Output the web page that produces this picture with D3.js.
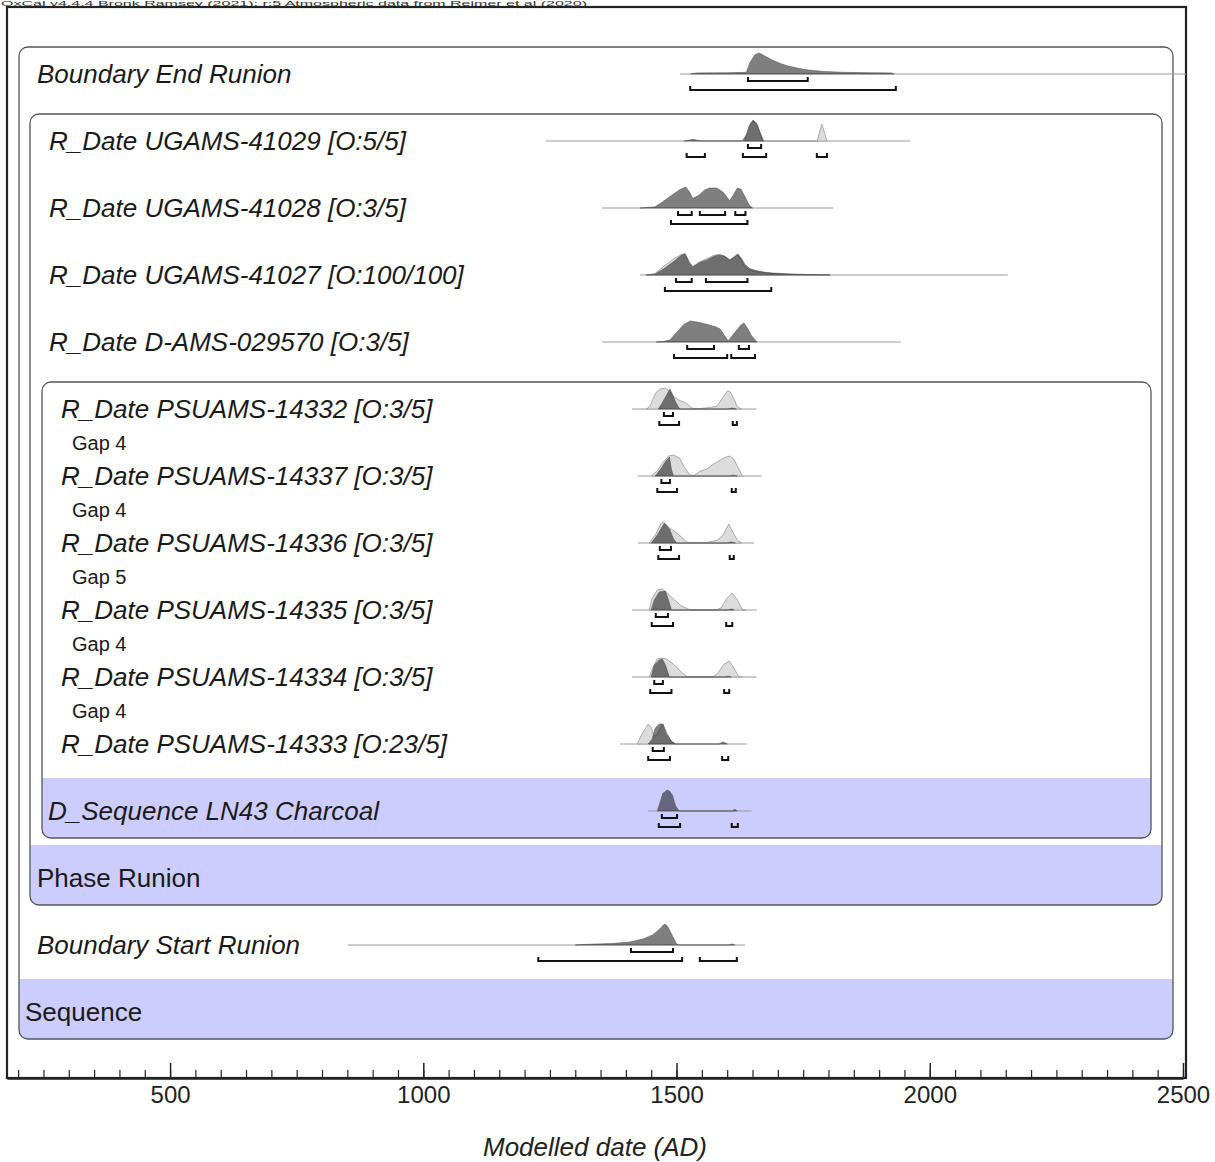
<html>
<head>
<title>LN43 OxCal model</title>
<script src="https://d3js.org/d3.v7.min.js"></script>
</head>
<body style="margin:0">
<svg id="oxcal-plot" width="1215" height="1162"></svg>
<script>
// ---- data ----
const rowLabels = [
    "Boundary End Runion",
    "R_Date UGAMS-41029 [O:5/5]",
    "R_Date UGAMS-41028 [O:3/5]",
    "R_Date UGAMS-41027 [O:100/100]",
    "R_Date D-AMS-029570 [O:3/5]",
    "R_Date PSUAMS-14332 [O:3/5]",
    "R_Date PSUAMS-14337 [O:3/5]",
    "R_Date PSUAMS-14336 [O:3/5]",
    "R_Date PSUAMS-14335 [O:3/5]",
    "R_Date PSUAMS-14334 [O:3/5]",
    "R_Date PSUAMS-14333 [O:23/5]",
    "D_Sequence LN43 Charcoal",
    "Phase Runion",
    "Boundary Start Runion",
    "Sequence"
];
const rowItalic = [true,true,true,true,true,true,true,true,true,true,true,true,false,true,false];
const labelX = [37,49,49,49,49,61,61,61,61,61,61,48,37,37,25];

// gap labels sit between consecutive PSUAMS rows (after row index)
const gapAfterRow = [5,6,7,8,9];
const gapLabels = ["Gap 4","Gap 4","Gap 5","Gap 4","Gap 4"];

// extent of the thin baseline of each row (years AD), null = none
const lineRanges = [
    [1507,2506],[1242,1961],[1353,1809],[1428,2154],[1353,1943],
    [1412,1658],[1424,1668],[1424,1653],[1412,1658],[1412,1658],[1388,1638],
    [1444,1648], null, [851,1635], null
];

// modelled (posterior) distributions, [year, relative probability]
const posterior = [
    [[1528,0],[1540,0.05],[1600,0.06],[1638,0.08],[1645,0.55],[1655,0.92],[1663,1.0],[1675,0.85],[1690,0.65],[1705,0.5],[1720,0.38],[1740,0.27],[1760,0.19],[1790,0.12],[1830,0.08],[1880,0.06],[1925,0.05],[1930,0]],
    [[1515,0],[1525,0.04],[1532,0.08],[1540,0.04],[1550,0],[1630,0],[1638,0.3],[1645,0.8],[1651,1.0],[1658,0.85],[1665,0.4],[1672,0]],
    [[1428,0],[1440,0.02],[1457,0.05],[1470,0.25],[1490,0.6],[1505,0.85],[1518,1.0],[1526,0.75],[1532,0.45],[1545,0.62],[1555,0.85],[1565,0.95],[1580,0.95],[1592,0.75],[1605,0.35],[1613,0.65],[1620,0.95],[1627,0.9],[1635,0.55],[1643,0.15],[1650,0]],
    [[1440,0],[1457,0.04],[1475,0.3],[1495,0.65],[1510,0.95],[1517,1.0],[1525,0.6],[1532,0.38],[1545,0.58],[1560,0.72],[1575,0.9],[1585,0.95],[1595,0.9],[1605,0.72],[1613,0.85],[1621,1.0],[1628,0.8],[1635,0.5],[1645,0.3],[1659,0.2],[1675,0.13],[1690,0.09],[1724,0.05],[1760,0.02],[1803,0]],
    [[1460,0],[1475,0.03],[1487,0.1],[1500,0.45],[1515,0.85],[1527,1.0],[1540,0.95],[1553,0.88],[1566,0.8],[1578,0.72],[1586,0.62],[1595,0.3],[1602,0.05],[1610,0.3],[1619,0.57],[1627,0.8],[1633,0.9],[1640,0.65],[1648,0.3],[1659,0]],
    [[1464,0],[1472,0.3],[1480,0.65],[1487,0.95],[1492,0.7],[1498,0.35],[1506,0],[1602,0],[1610,0.05],[1618,0]],
    [[1458,0],[1470,0.38],[1480,0.75],[1486,0.9],[1490,0.3],[1494,0],[1605,0],[1612,0.04],[1620,0]],
    [[1450,0],[1462,0.38],[1476,0.95],[1486,0.67],[1494,0.2],[1500,0],[1600,0],[1608,0.05],[1616,0]],
    [[1450,0],[1456,0.48],[1466,0.86],[1478,0.9],[1484,0.48],[1490,0],[1602,0],[1608,0.05],[1614,0]],
    [[1450,0],[1456,0.57],[1466,0.81],[1472,0.86],[1478,0.57],[1486,0],[1596,0],[1602,0.04],[1608,0]],
    [[1444,0],[1452,0.24],[1458,0.76],[1466,0.95],[1473,0.95],[1480,0.48],[1490,0.14],[1498,0],[1584,0],[1592,0.1],[1600,0]],
    [[1462,0],[1468,0.45],[1473,0.85],[1477,0.9],[1481,1.0],[1486,0.95],[1492,0.75],[1498,0.25],[1505,0],[1610,0],[1615,0.08],[1620,0]],
    null,
    [[1300,0],[1310,0.02],[1374,0.07],[1408,0.14],[1434,0.29],[1453,0.48],[1467,0.76],[1474,0.95],[1478,1.0],[1483,0.86],[1491,0.48],[1500,0.05],[1505,0],[1603,0],[1609,0.05],[1615,0]],
    null
];

// unmodelled (likelihood) distributions, drawn in light grey
const likelihood = [
    null,
    [[1635,0],[1643,0.7],[1651,0.95],[1660,0.75],[1670,0],[1778,0],[1783,0.5],[1787,0.8],[1792,0.4],[1797,0]],
    null,
    [[1440,0],[1457,0.06],[1475,0.42],[1495,0.78],[1510,0.98],[1517,1.02],[1525,0.62],[1532,0.4],[1545,0.62],[1560,0.78],[1575,0.95],[1585,0.98],[1595,0.88],[1605,0.7],[1613,0.83],[1621,0.98],[1628,0.7],[1635,0.4],[1645,0.22],[1659,0.15],[1690,0.07],[1740,0.02],[1803,0]],
    null,
    [[1440,0],[1447,0.1],[1453,0.45],[1460,0.8],[1468,0.95],[1478,1.0],[1486,0.85],[1494,0.6],[1505,0.42],[1518,0.3],[1530,0.05],[1537,0],[1550,0.03],[1565,0.07],[1580,0.14],[1590,0.5],[1600,0.85],[1606,0.82],[1614,0.45],[1620,0.1],[1628,0]],
    [[1450,0],[1462,0.25],[1472,0.62],[1484,0.95],[1494,1.0],[1506,0.85],[1516,0.4],[1526,0.05],[1534,0.02],[1546,0.22],[1560,0.33],[1573,0.57],[1586,0.76],[1597,0.9],[1606,0.95],[1613,0.8],[1622,0.38],[1630,0]],
    [[1446,0],[1458,0.38],[1470,0.95],[1474,1.0],[1486,0.72],[1503,0.43],[1520,0.05],[1530,0],[1560,0.03],[1580,0.12],[1592,0.38],[1603,0.9],[1610,0.57],[1620,0.14],[1628,0]],
    [[1446,0],[1452,0.57],[1462,0.95],[1472,1.0],[1482,0.8],[1496,0.48],[1509,0.2],[1522,0.05],[1530,0],[1578,0],[1588,0.1],[1600,0.57],[1610,0.8],[1620,0.48],[1629,0.05],[1636,0]],
    [[1446,0],[1452,0.38],[1462,0.86],[1470,0.9],[1480,0.86],[1496,0.57],[1509,0.24],[1522,0],[1572,0],[1582,0.19],[1592,0.57],[1604,0.76],[1612,0.48],[1622,0.05],[1628,0]],
    [[1422,0],[1432,0.48],[1444,0.95],[1450,0.8],[1455,0.4],[1460,0.38],[1466,0.67],[1473,0.95],[1480,0.57],[1490,0.1],[1498,0]],
    null, null, null, null
];

// highest posterior density ranges (years AD)
const range68 = [
    [[1641,1759]], [[1641,1667]], [[1503,1530],[1546,1596],[1616,1636]], [[1499,1530],[1558,1640]],
    [[1521,1574],[1623,1643]], [[1475,1493]], [[1470,1487]], [[1467,1489]], [[1459,1483]],
    [[1456,1473]], [[1453,1475]], [[1471,1501]], [], [[1410,1493]], []
];
const range95 = [
    [[1527,1933]], [[1520,1556],[1631,1677],[1777,1797]], [[1489,1640]], [[1477,1687]],
    [[1495,1600],[1608,1655]], [[1466,1505],[1611,1619]], [[1462,1501],[1609,1617]],
    [[1464,1505],[1605,1613]], [[1451,1493],[1598,1610]], [[1448,1490],[1594,1604]],
    [[1444,1487],[1590,1602]], [[1465,1507],[1609,1621]], [], [[1227,1511],[1546,1619]], []
];

// grouping boxes: first row, last (band) row, left and right edges
const groupNames = ["Sequence","Phase Runion","D_Sequence LN43 Charcoal"];
const groupFirstRow = [0,1,5];
const groupLastRow = [14,12,11];
const groupLeft = [19,30,42];
const groupRight = [1173,1162,1151];

const majorTicks = [500,1000,1500,2000,2500];
const minorTicks = d3.range(200,2501,50);

// ---- drawing ----
const svg = d3.select("svg#oxcal-plot");
const frame = {left: 7, right: 1186, top: 7, bottom: 1078};
const font = "'Liberation Sans', Arial, sans-serif";

const x = d3.scaleLinear().domain([178, 2500]).range([frame.left, 1183]);
const rowY = d3.scaleLinear().domain([0, rowLabels.length-1]).range([74, 1012]);
const dens = d3.scaleLinear().domain([0, 1]).range([0, 21]);

// header line above the frame
svg.append("text")
    .attr("x", 1).attr("y", 6)
    .attr("font-family", font).attr("font-size", 8).attr("fill", "#333")
    .attr("textLength", 586).attr("lengthAdjust", "spacingAndGlyphs")
    .text("OxCal v4.4.4 Bronk Ramsey (2021); r:5 Atmospheric data from Reimer et al (2020)");

const clip = svg.append("defs");

// group boxes with shaded band at the bottom
groupNames.forEach((g, i) => {
    const top = rowY(groupFirstRow[i]) - 27;
    const bottom = rowY(groupLastRow[i]) + 27;
    const w = groupRight[i] - groupLeft[i];
    clip.append("clipPath").attr("id", "box" + i)
        .append("rect")
        .attr("x", groupLeft[i]).attr("y", top)
        .attr("width", w).attr("height", bottom - top)
        .attr("rx", 9);
    svg.append("rect")
        .attr("clip-path", `url(#box${i})`)
        .attr("x", groupLeft[i]).attr("y", rowY(groupLastRow[i]) - 33)
        .attr("width", w).attr("height", 60)
        .attr("fill", "#ccccff");
    svg.append("rect")
        .attr("x", groupLeft[i]).attr("y", top)
        .attr("width", w).attr("height", bottom - top)
        .attr("rx", 9)
        .attr("fill", "none").attr("stroke", "#555").attr("stroke-width", 1.3);
});

// outer frame
svg.append("rect")
    .attr("x", frame.left).attr("y", frame.top)
    .attr("width", frame.right - frame.left).attr("height", frame.bottom - frame.top)
    .attr("fill", "none").attr("stroke", "#222").attr("stroke-width", 2.2);

const area = c => d3.area().x(d => x(d[0])).y0(c).y1(d => c - dens(d[1]));

const bracket = (r, y) => `M${x(r[0])},${y-4}V${y}H${x(r[1])}V${y-4}`;

rowLabels.forEach((label, i) => {
    const c = rowY(i);
    svg.append("text")
        .attr("x", labelX[i]).attr("y", c + 9)
        .attr("font-family", font).attr("font-size", 26)
        .attr("font-style", rowItalic[i] ? "italic" : "normal")
        .attr("fill", "#1a1a1a")
        .text(label);

    if (lineRanges[i]) {
        svg.append("line")
            .attr("x1", x(lineRanges[i][0])).attr("x2", x(lineRanges[i][1]))
            .attr("y1", c).attr("y2", c)
            .attr("stroke", "#999").attr("stroke-width", 1.2);
    }
    if (likelihood[i]) {
        svg.append("path").datum(likelihood[i])
            .attr("d", area(c))
            .attr("fill", "#dcdcdc").attr("stroke", "#999").attr("stroke-width", 0.8);
    }
    if (posterior[i]) {
        svg.append("path").datum(posterior[i])
            .attr("d", area(c))
            .attr("fill", "rgba(0,0,0,0.5)").attr("stroke", "#555").attr("stroke-width", 0.6);
    }
    range68[i].forEach(r => {
        svg.append("path").attr("d", bracket(r, c + 7))
            .attr("fill", "none").attr("stroke", "#111").attr("stroke-width", 2);
    });
    range95[i].forEach(r => {
        svg.append("path").attr("d", bracket(r, c + 16))
            .attr("fill", "none").attr("stroke", "#111").attr("stroke-width", 2);
    });
});

gapLabels.forEach((g, k) => {
    svg.append("text")
        .attr("x", 72).attr("y", (rowY(gapAfterRow[k]) + rowY(gapAfterRow[k] + 1)) / 2 + 7)
        .attr("font-family", font).attr("font-size", 20)
        .attr("fill", "#1a1a1a")
        .text(g);
});

// x axis along bottom of frame, ticks pointing up
const axisG = svg.append("g").attr("transform", `translate(0,${frame.bottom})`);
axisG.append("g")
    .call(d3.axisBottom(x).tickValues(minorTicks).tickSize(-8).tickSizeOuter(0).tickFormat(""))
    .call(g => g.select(".domain").remove())
    .call(g => g.selectAll("line").attr("stroke", "#222").attr("stroke-width", 1.2));
axisG.append("g")
    .call(d3.axisBottom(x).tickValues(majorTicks).tickSize(-15).tickSizeOuter(0).tickPadding(8).tickFormat(d3.format("d")))
    .call(g => g.select(".domain").attr("stroke", "#222").attr("stroke-width", 2.5))
    .call(g => g.selectAll("line").attr("stroke", "#222").attr("stroke-width", 1.5))
    .call(g => g.selectAll("text").attr("font-family", font).attr("font-size", 24).attr("fill", "#222"));

svg.append("text")
    .attr("x", (x(178) + x(2500)) / 2).attr("y", 1156)
    .attr("text-anchor", "middle")
    .attr("font-family", font).attr("font-size", 26).attr("font-style", "italic")
    .attr("fill", "#222")
    .text("Modelled date (AD)");
</script>
</body>
</html>
